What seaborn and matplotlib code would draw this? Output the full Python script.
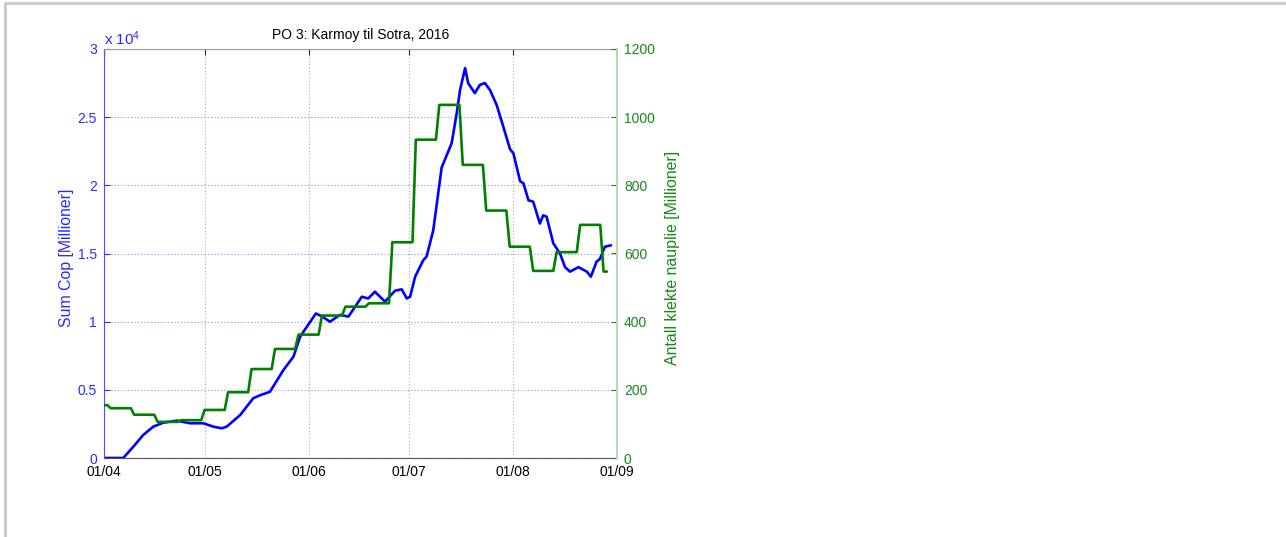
import numpy as np
import pandas as pd
import matplotlib
matplotlib.use("Agg")
import matplotlib.pyplot as plt
import matplotlib.dates as mdates
from matplotlib.lines import Line2D
from matplotlib.ticker import FixedLocator, FixedFormatter
import seaborn as sns

# ---------------- data ----------------
title = "PO 3: Karmoy til Sotra, 2016"
start_date = "2016-04-01"
left_label = "Sum Cop [Millioner]"
right_label = "Antall klekte nauplie [Millioner]"

# Sum Cop (left axis), day offset from 1 April and value
blue_days = [0, 5.75, 8.74, 11.7, 14.7, 17.7, 21.7, 25.6, 29.6, 32.6, 35.1, 36.6,
             40.6, 44.5, 46.5, 49.5, 53.5, 56.5, 58.5, 60.5, 63.2, 64.9, 67.4,
             70.4, 72.9, 76.9, 78.8, 80.8, 83.8, 86.8, 88.8, 90.3, 91.3, 92.8,
             95.2, 96.2, 98.2, 100.7, 103.7, 105.2, 106.2, 107.7, 108.6, 110.6,
             112.1, 113.6, 115.1, 117.1, 118.6, 121.1, 122.1, 124.1, 125.1,
             126.6, 128.0, 130.0, 131.0, 132.0, 134.0, 136.0, 137.5, 139.0,
             141.5, 144.0, 145.2, 146.9, 147.9, 149.4, 151.2]
blue_vals = [0, 0, 830, 1690, 2300, 2590, 2740, 2550, 2550, 2300, 2180, 2300,
             3150, 4380, 4600, 4860, 6450, 7430, 8900, 9630, 10600, 10400, 10000,
             10500, 10370, 11830, 11700, 12200, 11470, 12270, 12370, 11700, 11830,
             13300, 14500, 14770, 16700, 21300, 23100, 25300, 27000, 28600, 27500,
             26760, 27370, 27500, 27000, 25900, 24700, 22650, 22350, 20300, 20150,
             18900, 18800, 17200, 17800, 17700, 15750, 15000, 14000, 13670,
             14000, 13670, 13300, 14400, 14600, 15500, 15600]

# Antall klekte nauplie (right axis), weekly values and their lengths in days
green_week_vals = [155, 146, 127, 106, 111, 141, 193, 261, 320, 362, 418, 444,
                   454, 633, 934, 1036, 860, 726, 620, 549, 604, 684, 547]
green_week_lens = [2, 7, 7, 7, 7, 7, 7, 7, 7, 7, 7, 7,
                   7, 7, 7, 7, 7, 7, 7, 7, 7, 7, 2]

month_ticks = ["2016-04-01", "2016-05-01", "2016-06-01", "2016-07-01",
               "2016-08-01", "2016-09-01"]
month_labels = ["01/04", "01/05", "01/06", "01/07", "01/08", "01/09"]
left_ticks = [0, 5000, 10000, 15000, 20000, 25000, 30000]
left_tick_labels = ["0", "0.5", "1", "1.5", "2", "2.5", "3"]
right_ticks = [0, 200, 400, 600, 800, 1000, 1200]
right_tick_labels = ["0", "200", "400", "600", "800", "1000", "1200"]

# ---------------- tables ----------------
t0 = pd.Timestamp(start_date)
df_blue = pd.DataFrame({"date": t0 + pd.to_timedelta(blue_days, unit="D"),
                        "value": blue_vals})
g_daily = np.repeat(green_week_vals, green_week_lens)
df_green = pd.DataFrame({"date": t0 + pd.to_timedelta(np.arange(len(g_daily)), unit="D"),
                         "value": g_daily})

# ---------------- style ----------------
sns.set_style("white")
plt.rcParams["font.family"] = ["Liberation Sans", "DejaVu Sans"]
plt.rcParams["mathtext.default"] = "regular"

BLUE = "#0000ff"
BLUE_TXT = "#2a2aff"
GREEN = "#008000"
GREEN_TXT = "#1a861a"
FS = 10
LFS = 11.4

W, H = 1286, 537
fig = plt.figure(figsize=(W / 100, H / 100), dpi=100)
fig.patch.set_facecolor("white")
ax = fig.add_axes([104 / W, 1 - 458 / H, 513 / W, 409 / H])
ax2 = ax.twinx()

sns.lineplot(data=df_blue, x="date", y="value", ax=ax, color=BLUE, linewidth=1.9)
sns.lineplot(data=df_green, x="date", y="value", ax=ax2, color=GREEN, linewidth=1.9)

# x axis
ax.set_xlim(pd.Timestamp(month_ticks[0]), pd.Timestamp(month_ticks[-1]))
ax.xaxis.set_major_locator(FixedLocator(mdates.date2num(pd.to_datetime(month_ticks))))
ax.xaxis.set_major_formatter(FixedFormatter(month_labels))
ax.set_xlabel("")

# left axis
ax.set_ylim(0, 30000)
ax.yaxis.set_major_locator(FixedLocator(left_ticks))
ax.yaxis.set_major_formatter(FixedFormatter(left_tick_labels))
ax.set_ylabel(left_label, color=BLUE_TXT, fontsize=LFS)
ax.yaxis.set_label_coords((66 - 104) / 513, 0.49)
ax.yaxis.label.set_va("center")

# right axis
ax2.set_ylim(0, 1200)
ax2.yaxis.set_major_locator(FixedLocator(right_ticks))
ax2.yaxis.set_major_formatter(FixedFormatter(right_tick_labels))
ax2.set_ylabel(right_label, color=GREEN_TXT, fontsize=LFS)
ax2.yaxis.set_label_coords((672 - 104) / 513, 0.49)
ax2.yaxis.label.set_va("center")

# ticks
ax.tick_params(axis="x", direction="in", length=4, width=0.8, colors="#333333",
               labelcolor="black", labelsize=FS, top=True, pad=5)
ax.tick_params(axis="y", direction="in", length=4, width=0.8, colors=BLUE_TXT,
               labelsize=FS, pad=5, left=True)
ax2.tick_params(axis="y", direction="in", length=4, width=0.8, colors=GREEN_TXT,
                labelsize=FS, pad=5, right=True)

# grid
ax.grid(True, axis="y", linestyle=(0, (1, 2)), color="#8c8cff", linewidth=0.8)
ax.grid(True, axis="x", linestyle=(0, (1, 2)), color="#a8a8a8", linewidth=0.8)
ax2.grid(False)

# spines
ax.spines["left"].set_color("#4b4bff")
ax.spines["top"].set_color("#999999")
ax.spines["bottom"].set_color("#555555")
ax.spines["right"].set_visible(False)
for s in ("left", "top", "bottom"):
    ax2.spines[s].set_visible(False)
ax2.spines["right"].set_color("#b4dab4")
ax2.spines["right"].set_linewidth(1.4)

# title and exponent
ax.set_title(title, fontsize=FS, color="black", pad=7)
ax.text(0.0, 1.003, r"x 10$^4$", transform=ax.transAxes, ha="left", va="bottom",
        color=BLUE_TXT, fontsize=11)

# figure frame (top and left gray line)
fig.add_artist(Line2D([4.5 / W, 1], [1 - 2.5 / H, 1 - 2.5 / H], transform=fig.transFigure,
                      color="#cccccc", linewidth=2.2))
fig.add_artist(Line2D([4.5 / W, 4.5 / W], [0, 1 - 2.5 / H], transform=fig.transFigure,
                      color="#cccccc", linewidth=2.2))

fig.savefig("out.png", dpi=100, facecolor="white")
